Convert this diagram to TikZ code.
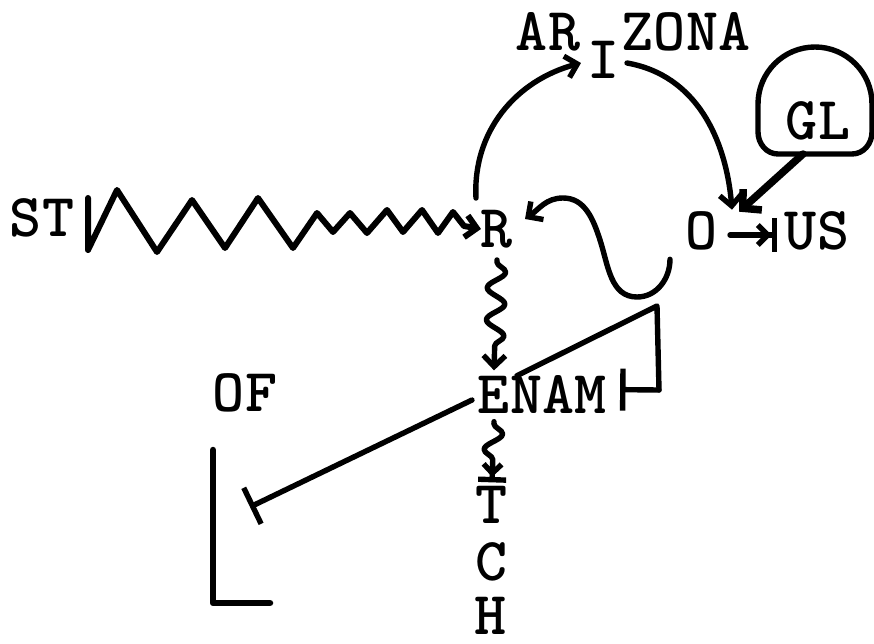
\documentclass[tikz,border=0pt]{standalone}
\usepackage{fontspec}
\usetikzlibrary{arrows.meta,decorations.pathmorphing,positioning}

\begin{document}
\begin{tikzpicture}[x=1pt,y=1pt,
    lbl/.style={font=\ttfamily\bfseries\fontsize{61}{61}\selectfont,inner sep=0pt,outer sep=0pt},
    pen/.style={line width=5.4pt,line cap=round,line join=round},
    barb/.style={-{Straight Barb[length=11pt,width=22pt]}},
    wavy/.style={decorate,decoration={snake,amplitude=9pt,segment length=32pt,pre length=2pt,post length=9pt}}]
  \useasboundingbox (0,0) rectangle (874,-644);
  % words
  \node[lbl] (st) at (42,-218) {ST};
  \node[lbl] (r) at (497,-229) {R};
  \node[lbl] (o) at (702,-231) {O};
  \node[lbl] (us) at (817,-231) {US};
  \node[lbl] (ar) at (548,-32) {AR};
  \node[lbl] (i) at (604,-60) {I};
  \node[lbl] (zona) at (686,-32) {ZONA};
  \node[lbl] (gl) at (818,-121) {GL};
  \node[lbl] (e) at (494,-395) {E};
  \node[lbl,base right=0pt of e] (nam) {NAM};
  \node[lbl] (of) at (245,-393) {OF};
  \node[lbl] (t) at (492,-505) {T};
  \node[lbl] (c) at (492,-562) {C};
  \node[lbl] (h) at (491,-616) {H};
  % balloon round GL
  \draw[pen] ([shift={(-60,17)}]gl.center) arc[start angle=180,end angle=0,radius=57]
    -- ++(0,-28) to[out=-90,in=0] ++(-20,-22) -- ++(-74,0) to[out=180,in=-90] ++(-20,22) -- cycle;
  \coordinate (glb) at ([shift={(-15,-33)}]gl.center);
  \coordinate (ofbar) at (250,-507);
  % connectors
  \draw[pen,line width=6pt,barb] ([shift={(14,20)}]st.east) -- ++(0,-52) -- (117,-190) -- (157,-252)
    -- (192,-200) -- (225,-248) -- (258,-198) -- (293,-248) -- (317,-213) -- (333,-232) -- (350,-213)
    -- (367,-233) -- (387,-210) -- (403,-232) -- (422,-210) -- (438,-233) -- (453,-212) -- (464,-226) -- (r.west);
  \draw[pen,barb] ([shift={(-5,12)}]r.north west) to[out=93,in=195] ([shift={(-7,-3)}]i.west);
  \draw[pen,barb] ([shift={(7,-3)}]i.east) to[out=-10,in=95] ([shift={(14,2)}]o.north east);
  \draw[pen,line width=7.5pt,-{Straight Barb[length=13pt,width=28pt]}] (glb) -- ([shift={(21,0)}]o.north east);
  \draw[pen,-{Straight Barb[length=10pt,width=20pt]Bar[width=34pt]}] ([shift={(12,-4)}]o.east) -- ([shift={(-8,-4)}]us.west);
  \draw[pen,barb] ([shift={(-16,-9)}]o.south west) to[out=-90,in=0] (637,-297) to[out=180,in=-72] (600,-240)
    to[out=108,in=0] (563,-198) to[out=180,in=35] ([shift={(12,10)}]r.east);
  \draw[pen,barb,wavy] ([yshift=-12pt]r.south) -- ([yshift=6pt]e.north);
  \draw[pen,wavy,-{Straight Barb[length=9pt,width=18pt]Bar[width=28pt]}] ([yshift=-8pt]e.south) -- ([yshift=4pt]t.north);
  \draw[pen,-{Bar[width=40pt]}] ([shift={(-6,-5)}]e.west) -- (ofbar);
  \draw[pen] ([xshift=7pt]nam.north west) -- (657,-306) -- (659,-390);
  \draw[pen,-{Bar[width=42pt]}] (659,-390) -- ([shift={(14,5)}]nam.east);
  \draw[pen,line width=6.5pt] (213,-450) |- (270,-603);
\end{tikzpicture}
\end{document}
